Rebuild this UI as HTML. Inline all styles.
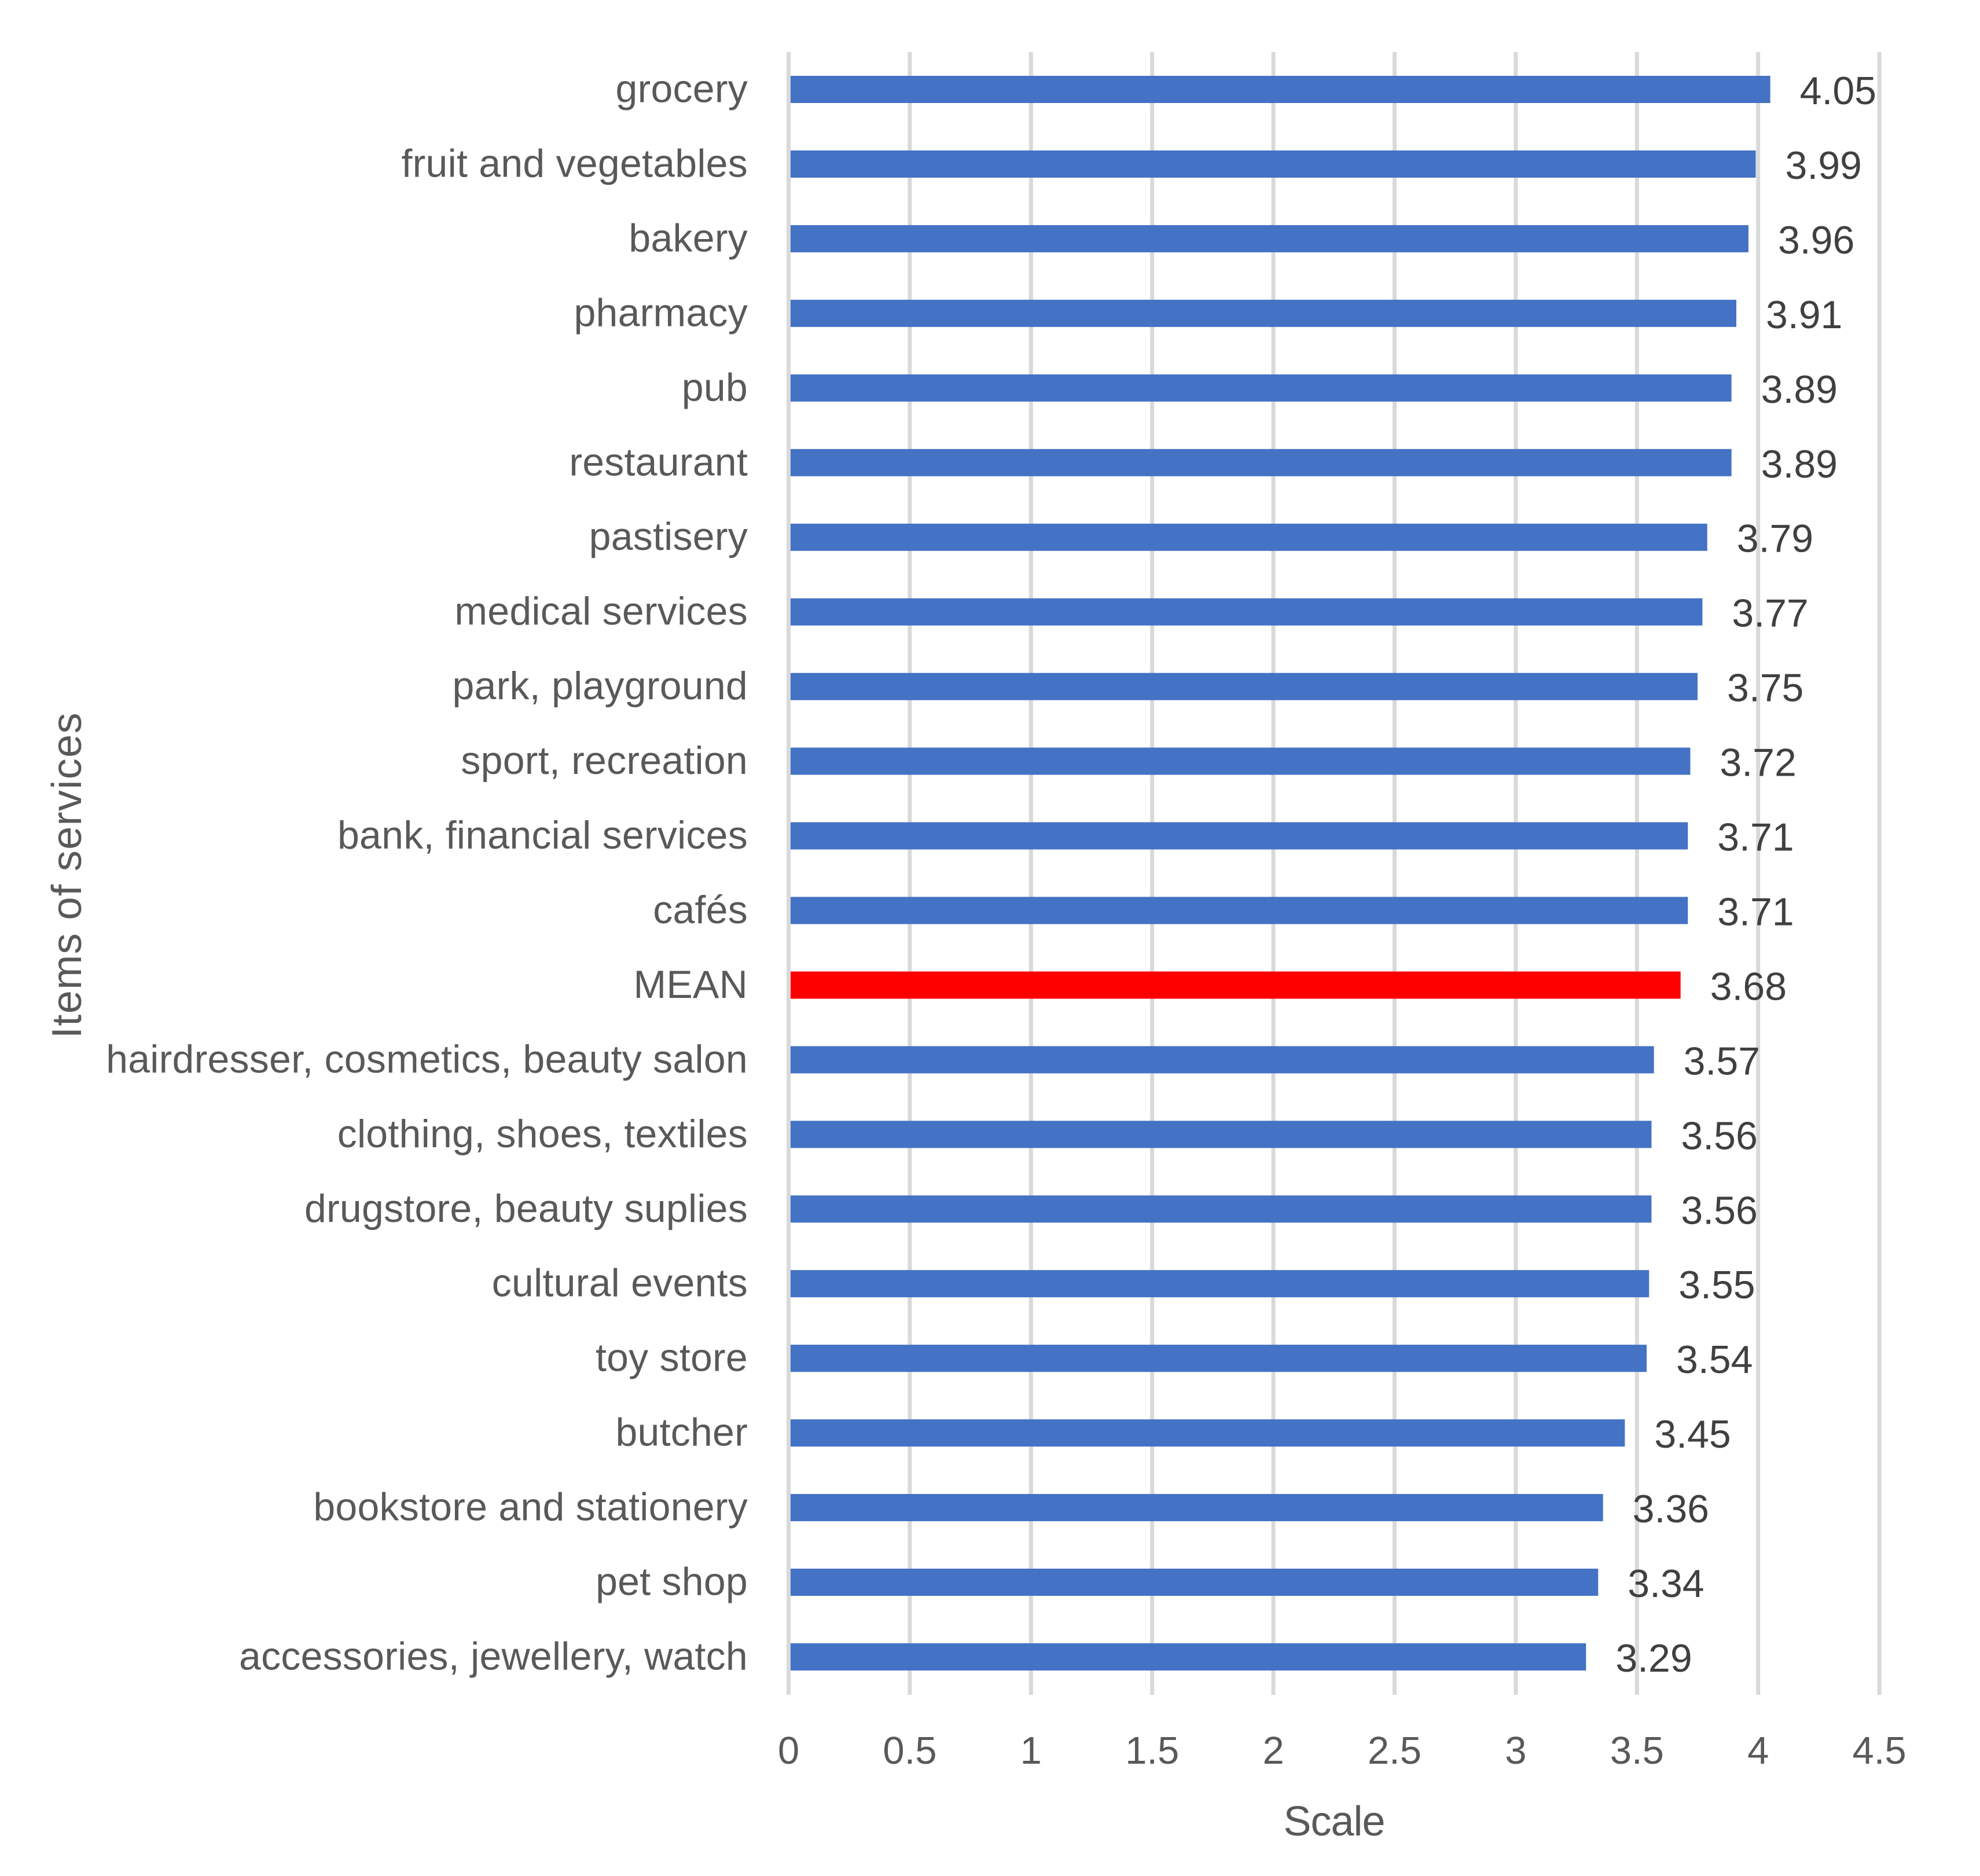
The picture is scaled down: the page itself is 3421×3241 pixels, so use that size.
<!DOCTYPE html>
<html lang="en">
<head>
<meta charset="utf-8">
<title>Items of services rating chart</title>
<style>
html,body{margin:0;padding:0;background:#fff;width:3421px;height:3241px;overflow:hidden}
svg{display:block}
text{font-family:"Liberation Sans",sans-serif;font-size:67px}
#cats text{font-size:68px;letter-spacing:0.25px}
#vals text{font-size:68px}
.axis-title{font-size:72px}
</style>
</head>
<body>
<svg id="chart" xmlns="http://www.w3.org/2000/svg" width="3421" height="3241" viewBox="0 0 3421 3241">
<rect x="0" y="0" width="3421" height="3241" fill="#ffffff"/>
<g id="grid"></g>
<g id="bars"></g>
<g id="cats"></g>
<g id="vals"></g>
<g id="ticks"></g>
<text class="axis-title" x="2305" y="3171" text-anchor="middle" fill="#595959" style="letter-spacing:-1px">Scale</text>
<text class="axis-title" x="0" y="0" transform="translate(140,1512) rotate(-90)" text-anchor="middle" fill="#595959" style="letter-spacing:1.4px">Items of services</text>
</svg>
<script>
const categories = ["grocery","fruit and vegetables","bakery","pharmacy","pub","restaurant","pastisery","medical services","park, playground","sport, recreation","bank, financial services","cafés","MEAN","hairdresser, cosmetics, beauty salon","clothing, shoes, textiles","drugstore, beauty suplies","cultural events","toy store","butcher","bookstore and stationery","pet shop","accessories, jewellery, watch"];
const values = [4.05,3.99,3.96,3.91,3.89,3.89,3.79,3.77,3.75,3.72,3.71,3.71,3.68,3.57,3.56,3.56,3.55,3.54,3.45,3.36,3.34,3.29];
const tickValues = [0,0.5,1,1.5,2,2.5,3,3.5,4,4.5];
const highlightCategory = "MEAN";

const NS = "http://www.w3.org/2000/svg";
const plot = {left: 1362.5, unit: 418.8, firstRow: 154.5, rowStep: 128.95, barH: 47, top: 90, bottom: 2928, axisHalf: 3.5};
function xScale(v) { return plot.left + v * plot.unit; }
function yScale(i) { return plot.firstRow + i * plot.rowStep; }
function make(tag, parent, attrs) {
  const el = document.createElementNS(NS, tag);
  for (const k in attrs) el.setAttribute(k, attrs[k]);
  parent.appendChild(el);
  return el;
}
const grid = document.getElementById("grid");
const bars = document.getElementById("bars");
const cats = document.getElementById("cats");
const vals = document.getElementById("vals");
const ticks = document.getElementById("ticks");

tickValues.forEach(function (t) {
  const line = make("rect", grid, {x: xScale(t) - 3.5, y: plot.top, width: 7, height: plot.bottom - plot.top, fill: "#d9d9d9"});
  
  
  const label = make("text", ticks, {x: xScale(t), y: 3047, "text-anchor": "middle", fill: "#595959"});
  label.textContent = String(t);
  
  
});

categories.forEach(function (name, i) {
  const cy = yScale(i);
  const start = xScale(0) + plot.axisHalf;
  const bar = make("rect", bars, {x: start, y: cy - plot.barH / 2, width: xScale(values[i]) - start, height: plot.barH, fill: name === highlightCategory ? "#ff0000" : "#4472c4"});
  
  
  const cat = make("text", cats, {x: 1292, y: cy + 22, "text-anchor": "end", fill: "#595959"});
  cat.textContent = name;
  
  
  const val = make("text", vals, {x: xScale(values[i]) + 51, y: cy + 25.5, fill: "#404040"});
  val.textContent = values[i].toFixed(2);
  
  
});
</script>
</body>
</html>
